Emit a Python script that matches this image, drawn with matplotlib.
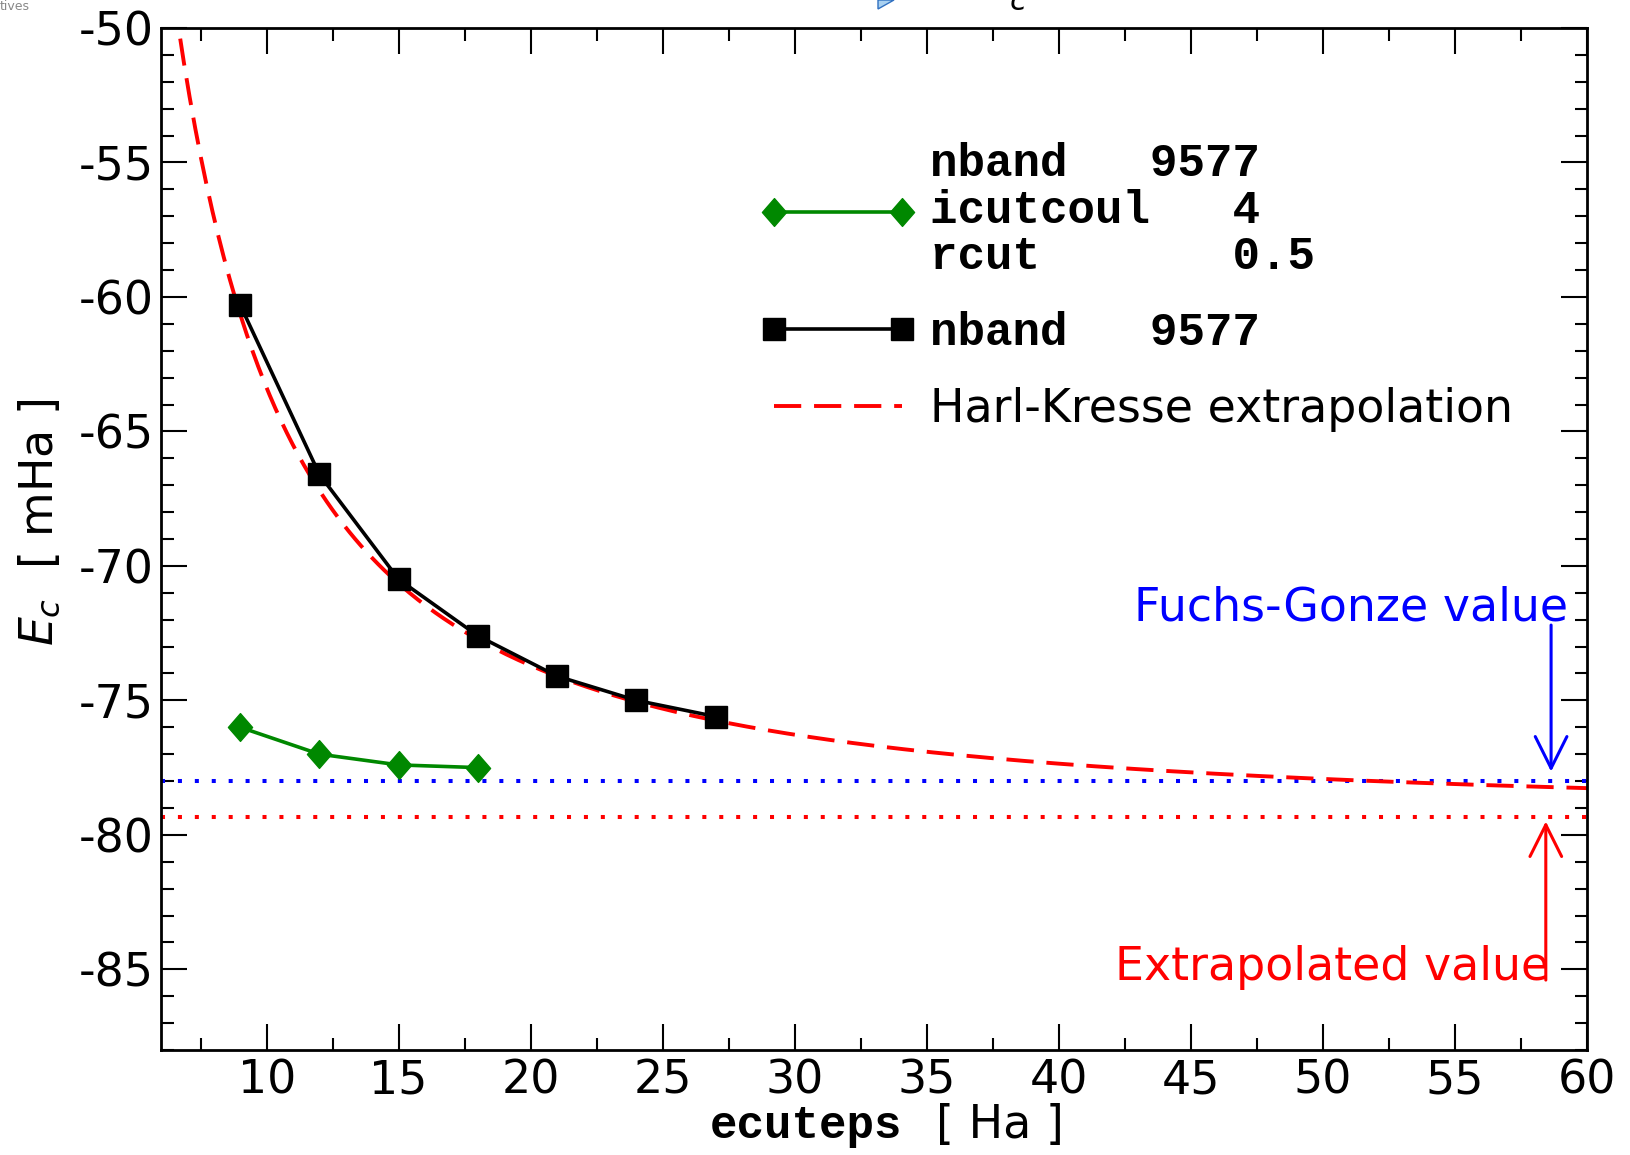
import matplotlib.pyplot as plt
from matplotlib.path import Path
from matplotlib.patches import Polygon
from matplotlib.ticker import MultipleLocator
import numpy as np

# correlation energy vs ecuteps (mHa)
ecut_black = [9, 12, 15, 18, 21, 24, 27]
ec_black = [-60.3, -66.6, -70.5, -72.6, -74.1, -75.0, -75.6]

ecut_green = [9, 12, 15, 18]
ec_green = [-76.0, -77.0, -77.4, -77.5]

# Harl-Kresse fit: E(x) = E_inf + A / x^1.5
hk_einf = -79.35
hk_a = 505.0
fuchs_gonze = -78.0

lab_green = "nband   9577\nicutcoul   4\nrcut       0.5"
lab_black = "nband   9577"
lab_red = "Harl-Kresse extrapolation"

FS = 33
MONO = dict(family='Liberation Mono', weight='bold', size=FS)
plt.rcParams['axes.unicode_minus'] = False

fig = plt.figure(figsize=(16.3, 11.55), dpi=100)
ax = fig.add_axes([161 / 1630, 1 - 1050 / 1155, 1426 / 1630, 1022 / 1155])

# reference lines
ax.axhline(fuchs_gonze, color='blue', lw=2.9, ls=(0, (1, 3.2)))
ax.axhline(hk_einf, color='red', lw=2.9, ls=(0, (1, 3.2)))

# extrapolation curve
x_fit = np.linspace(6, 60, 500)
y_fit = hk_einf + hk_a * x_fit ** -1.5
l_red, = ax.plot(x_fit, y_fit, color='red', lw=2.8, ls=(0, (7, 3.3)))

l_black, = ax.plot(ecut_black, ec_black, color='black', lw=2.6,
                   marker='s', ms=16, mfc='black', mec='black')

diamond = Path([(0, 1.15), (1, 0), (0, -1.15), (-1, 0), (0, 1.15)],
               [Path.MOVETO, Path.LINETO, Path.LINETO, Path.LINETO, Path.CLOSEPOLY])
l_green, = ax.plot(ecut_green, ec_green, color='#008800', lw=2.6,
                   marker=diamond, ms=20, mfc='#008800', mec='#008800')

ax.set_xlim(6, 60)
ax.set_ylim(-88, -50)
ax.xaxis.set_major_locator(MultipleLocator(5))
ax.xaxis.set_minor_locator(MultipleLocator(2.5))
ax.yaxis.set_major_locator(MultipleLocator(5))
ax.yaxis.set_minor_locator(MultipleLocator(1))
ax.tick_params(which='both', direction='in', top=True, right=True, width=1.5,
               labelsize=FS)
ax.tick_params(which='major', length=19)
ax.tick_params(which='minor', length=9)
ax.tick_params(axis='x', pad=6)
ax.tick_params(axis='y', pad=5)
for s in ax.spines.values():
    s.set_linewidth(2)

# legend
leg = ax.legend([l_green, l_black, l_red], [lab_green, lab_black, lab_red],
                loc='upper left', bbox_to_anchor=(0.42, 0.888), frameon=False,
                numpoints=2, handlelength=3.4, handletextpad=0.3,
                labelspacing=0.7, borderpad=0, borderaxespad=0, fontsize=FS)
txts = leg.get_texts()
for t in txts[:2]:
    t.set_fontproperties(MONO)
    t.set_linespacing(1.07)

# annotations
ax.text(59.3, -72.04, "Fuchs-Gonze value", color='blue', fontsize=FS,
        ha='right', va='baseline')
ax.annotate('', xy=(58.64, -77.65), xytext=(58.64, -72.2),
            arrowprops=dict(arrowstyle='->,head_length=0.6,head_width=0.3',
                            color='blue', lw=2.2, mutation_scale=38,
                            shrinkA=0, shrinkB=0))
ax.text(58.56, -85.38, "Extrapolated value", color='red', fontsize=FS,
        ha='right', va='baseline')
ax.annotate('', xy=(58.44, -79.5), xytext=(58.44, -85.4),
            arrowprops=dict(arrowstyle='->,head_length=0.6,head_width=0.3',
                            color='red', lw=2.2, mutation_scale=38,
                            shrinkA=0, shrinkB=0))

# axis labels
fig.text(902 / 1630, 1 - 1138 / 1155, "ecuteps", fontproperties=MONO,
         ha='right', va='baseline')
fig.text(936 / 1630, 1 - 1138 / 1155, "[ Ha ]", fontsize=FS,
         ha='left', va='baseline')
fig.text(40 / 1630, 1 - 522 / 1155, r"$E_c$  [ mHa ]", fontsize=FS,
         rotation=90, ha='center', va='center')

# cropped remnants at the top of the original image
fig.text(0.0, 1.0, "tives", fontsize=9, color='#888888', ha='left', va='top')
fig.text(1010 / 1630, 1 - 10 / 1155, "c", fontsize=22, style='italic',
         ha='left', va='baseline')
fig.add_artist(Polygon([(878 / 1630, 1.0), (878 / 1630, 1 - 9 / 1155),
                        (894 / 1630, 1.0)], closed=True, transform=fig.transFigure,
                       facecolor='#a8d0f0', edgecolor='#3070c0', lw=1))

fig.savefig('out.png', dpi=100)
